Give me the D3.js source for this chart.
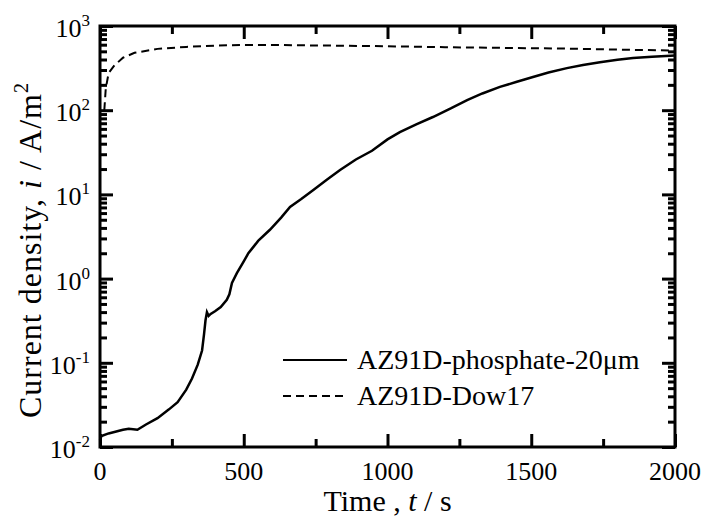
<!DOCTYPE html>
<html>
<head>
<meta charset="utf-8">
<script src="https://cdn.jsdelivr.net/npm/d3@7"></script>
<style>
  body { margin: 0; background: #fff; }
</style>
</head>
<body>
<svg id="chart" width="704" height="519"></svg>
<script>
// serie 1: AZ91D-phosphate-20um (linea continua)
const phosT = [0, 5, 30, 80, 100, 130, 160, 200, 240, 270, 300, 320, 340, 355, 362, 367, 372, 378, 385, 400, 420, 441, 450, 459, 476, 500, 516, 550, 591, 630, 661, 700, 742, 790, 835, 890, 946, 1000, 1043, 1100, 1158, 1220, 1277, 1330, 1391, 1450, 1506, 1560, 1624, 1680, 1739, 1800, 1854, 1920, 2000];
const phosI = [0.012, 0.0135, 0.0145, 0.016, 0.0165, 0.016, 0.0185, 0.022, 0.028, 0.034, 0.048, 0.065, 0.095, 0.14, 0.22, 0.32, 0.40, 0.36, 0.38, 0.41, 0.46, 0.56, 0.65, 0.89, 1.16, 1.6, 2.0, 2.8, 3.8, 5.3, 7.1, 8.8, 11.3, 15, 19.5, 26, 33, 45, 55, 68, 83, 105, 132, 158, 189, 218, 248, 280, 316, 345, 372, 398, 417, 432, 445];

// serie 2: AZ91D-Dow17 (linea discontinua)
const dowT = [15, 20, 30, 50, 80, 120, 200, 300, 400, 500, 600, 700, 800, 1000, 1200, 1400, 1600, 1800, 2000];
const dowI = [100, 180, 277, 340, 420, 480, 535, 565, 585, 595, 595, 590, 585, 575, 560, 550, 540, 525, 510];

const xTicks = [0, 500, 1000, 1500, 2000];
const xMinor = [250, 750, 1250, 1750];
const yExps = [-2, -1, 0, 1, 2, 3];
const legendNames = ["AZ91D-phosphate-20\u03bcm", "AZ91D-Dow17"];

const FONT = "'Liberation Serif', 'Times New Roman', serif";
const svg = d3.select("#chart");
const mLeft = 100, mRight = 675, mTop = 26, mBottom = 447;

const x = d3.scaleLinear().domain([0, 2000]).range([mLeft, mRight]);
const y = d3.scaleLog().domain([1e-2, 1e3]).range([mBottom, mTop]);

const yMajor = yExps.map(e => Math.pow(10, e));
const yMinor = [];
yExps.slice(0, -1).forEach(e => {
  for (let k = 2; k <= 9; k++) yMinor.push(k * Math.pow(10, e));
});

// Marco
svg.append("rect")
  .attr("x", mLeft).attr("y", mTop)
  .attr("width", mRight - mLeft).attr("height", mBottom - mTop)
  .attr("fill", "none").attr("stroke", "#000").attr("stroke-width", 3);

// Etiquetas de ticks
xTicks.forEach(t => {
  svg.append("text")
    .attr("x", x(t)).attr("y", 480)
    .attr("text-anchor", "middle")
    .attr("font-family", FONT)
    .attr("font-size", 26)
    .text(t);
});

yExps.forEach(e => {
  const t = svg.append("text")
    .attr("x", 90).attr("y", y(Math.pow(10, e)) + 11)
    .attr("text-anchor", "end")
    .attr("font-family", FONT)
    .attr("font-size", 26);
  t.append("tspan").text("10");
  t.append("tspan").attr("font-size", 17).attr("dy", -11).text(e);
});

// Titulos de ejes
const xl = svg.append("text")
  .attr("x", (mLeft + mRight) / 2).attr("y", 511)
  .attr("text-anchor", "middle").attr("font-family", FONT).attr("font-size", 30);
xl.append("tspan").text("Time , ");
xl.append("tspan").attr("font-style", "italic").text("t");
xl.append("tspan").text(" / s");

const yl = svg.append("text")
  .attr("transform", "translate(41,250) rotate(-90)")
  .attr("text-anchor", "middle").attr("font-family", FONT).attr("font-size", 32)
  .attr("letter-spacing", 1);
yl.append("tspan").text("Current density, ");
yl.append("tspan").attr("font-style", "italic").text("i");
yl.append("tspan").text(" / A/m");
yl.append("tspan").attr("font-size", 20).attr("dy", -13).text("2");

// Curvas
const line = d3.line().x(d => x(d[0])).y(d => y(d[1]));

svg.append("path")
  .datum(phosT.map((t, i) => [t, phosI[i]]))
  .attr("d", line)
  .attr("fill", "none").attr("stroke", "#000").attr("stroke-width", 2.5);

svg.append("path")
  .datum(dowT.map((t, i) => [t, dowI[i]]))
  .attr("d", line)
  .attr("fill", "none").attr("stroke", "#000").attr("stroke-width", 2)
  .attr("stroke-dasharray", "8,5");

// Leyenda
legendNames.forEach((name, i) => {
  const ly = 360 + i * 36;
  svg.append("line")
    .attr("x1", 283).attr("x2", 347).attr("y1", ly).attr("y2", ly)
    .attr("stroke", "#000").attr("stroke-width", 2)
    .attr("stroke-dasharray", i === 0 ? null : "8,5");
  svg.append("text")
    .attr("x", 357).attr("y", ly + 9)
    .attr("font-family", FONT)
    .attr("font-size", 28)
    .text(name);
});

// Ticks hacia adentro en los cuatro lados, al final para que queden encima
function addAxis(axis, transform) {
  const g = svg.append("g").attr("transform", transform).call(axis);
  g.select(".domain").remove();
  g.selectAll("text").remove();
  g.selectAll(".tick line").attr("stroke", "#000").attr("stroke-width", 3);
}
addAxis(d3.axisBottom(x).tickValues(xTicks).tickSizeInner(-13).tickSizeOuter(0), `translate(0,${mBottom})`);
addAxis(d3.axisBottom(x).tickValues(xMinor).tickSizeInner(-8).tickSizeOuter(0), `translate(0,${mBottom})`);
addAxis(d3.axisTop(x).tickValues(xTicks).tickSizeInner(-13).tickSizeOuter(0), `translate(0,${mTop})`);
addAxis(d3.axisTop(x).tickValues(xMinor).tickSizeInner(-8).tickSizeOuter(0), `translate(0,${mTop})`);
addAxis(d3.axisLeft(y).tickValues(yMajor).tickSizeInner(-13).tickSizeOuter(0), `translate(${mLeft},0)`);
addAxis(d3.axisLeft(y).tickValues(yMinor).tickSizeInner(-7).tickSizeOuter(0), `translate(${mLeft},0)`);
addAxis(d3.axisRight(y).tickValues(yMajor).tickSizeInner(-13).tickSizeOuter(0), `translate(${mRight},0)`);
addAxis(d3.axisRight(y).tickValues(yMinor).tickSizeInner(-7).tickSizeOuter(0), `translate(${mRight},0)`);
</script>
</body>
</html>
